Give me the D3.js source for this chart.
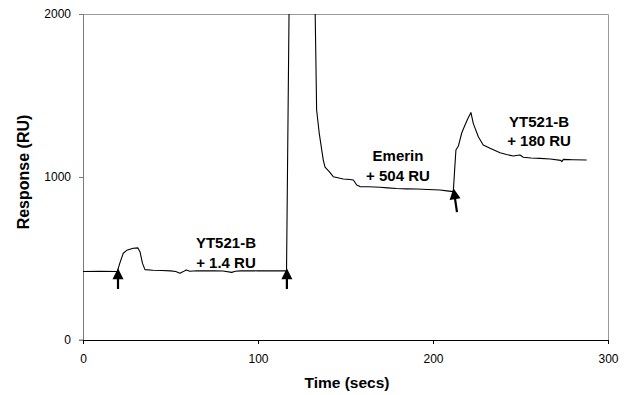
<!DOCTYPE html>
<html lang="en">
<head>
  <meta charset="utf-8" />
  <title>Sensorgram</title>
  <script src="https://d3js.org/d3.v7.min.js"></script>
  <style>
    body { margin: 0; background: #fff; }
    text { font-family: Arial, "Liberation Sans", sans-serif; }
  </style>
</head>
<body>
  <script>
    // sensorgram trace (time in secs, response in RU)
    var times = [0, 10, 19.6, 21, 23, 25, 28.7, 31.4, 32.6, 34, 35.4, 40, 45, 50, 53, 55.4, 57, 59, 61, 65,
      70, 75, 80, 85, 87, 90, 95, 100, 105, 110, 116.3, 118, 132.4, 133.5, 135, 137.3, 138.3, 140.7, 143, 146.9,
      148.7, 152.6, 154.5, 156.4, 158.3, 163, 169.7, 174, 179.2, 185, 190.7, 197, 204, 208, 211.6, 212.4, 213.1,
      214.5, 216.4, 218.3, 220, 221.7, 223, 225.9, 228.7, 232.6, 238.3, 242, 245.9, 247.5, 249.7, 251.6, 256,
      261.1, 267, 273, 273.6, 274.5, 280, 287.8];
    var response = [420, 421, 420, 470, 532, 550, 563, 565, 540, 470, 432, 428, 426, 424, 420, 410, 418, 430, 422, 425,
      424, 424, 423, 415, 422, 424, 425, 424, 424, 425, 424, 2300, 2200, 1411, 1268, 1104, 1060, 1033, 1002, 992,
      988, 985, 982, 951, 941, 940, 937, 933, 929, 927, 926, 923, 920, 915, 910, 1050, 1166,
      1190, 1270, 1319, 1360, 1395, 1329, 1247, 1196, 1176, 1149, 1138, 1129, 1132, 1135, 1121, 1117,
      1114, 1110, 1102, 1094, 1108, 1106, 1104];

    // injection arrows: tail -> tip
    var arrowTail = [[20, 313], [116.5, 313], [213.7, 785]];
    var arrowTip = [[20, 440], [116.5, 440], [211.7, 931]];

    // annotations (two lines each, anchored at first baseline)
    var labelLines = [["YT521-B", "+ 1.4 RU"], ["Emerin", "+ 504 RU"], ["YT521-B", "+ 180 RU"]];
    var labelPos = [[81.7, 564], [180, 1098], [260.6, 1307]];

    var xTicks = [0, 100, 200, 300];
    var yTicks = [0, 1000, 2000];

    var W = 628, H = 395;
    var margin = { top: 14, right: 20, bottom: 55, left: 83 };
    var width = W - margin.left - margin.right;
    var height = H - margin.top - margin.bottom;

    var svg = d3.select("body").append("svg")
      .attr("width", W)
      .attr("height", H);

    var x = d3.scaleLinear().domain([0, 300]).range([0, width]);
    var y = d3.scaleLinear().domain([0, 2000]).range([height, 0]);

    var g = svg.append("g")
      .attr("transform", "translate(" + margin.left + "," + margin.top + ")");

    svg.append("defs").append("clipPath")
      .attr("id", "clip")
      .append("rect")
      .attr("width", width)
      .attr("height", height);

    // frame (top, right)
    g.append("path")
      .attr("d", "M0,0.5H" + (width + 0.5) + "V" + height)
      .attr("fill", "none")
      .attr("stroke", "#9a9a9a")
      .attr("stroke-width", 1);

    var yAxis = g.append("g")
      .call(d3.axisLeft(y).tickValues(yTicks).tickSize(4).tickPadding(8).tickFormat(d3.format("d")));
    yAxis.select(".domain").attr("stroke", "#7a7a7a").attr("d", "M-4,0.5H0.5V" + height + "H-4");
    yAxis.selectAll(".tick line").attr("stroke", "#7a7a7a");
    yAxis.selectAll("text").attr("font-size", 12).attr("fill", "#000")
      .style("font-family", "Arial, 'Liberation Sans', sans-serif");

    var xAxis = g.append("g")
      .attr("transform", "translate(0," + height + ")")
      .call(d3.axisBottom(x).tickValues(xTicks).tickSize(4).tickPadding(10).tickFormat(d3.format("d")));
    xAxis.select(".domain").attr("stroke", "#000").attr("d", "M0,0.5H" + (width + 0.5) + "V4");
    xAxis.selectAll(".tick line").attr("stroke", "#000");
    xAxis.selectAll("text").attr("font-size", 12).attr("fill", "#000")
      .style("font-family", "Arial, 'Liberation Sans', sans-serif");

    var data = times.map(function (t, i) { return [t, response[i]]; });

    var line = d3.line()
      .x(function (d) { return x(d[0]); })
      .y(function (d) { return y(d[1]); });

    g.append("path")
      .datum(data)
      .attr("clip-path", "url(#clip)")
      .attr("fill", "none")
      .attr("stroke", "#000")
      .attr("stroke-width", 1.1)
      .attr("stroke-linejoin", "round")
      .attr("d", line);

    // arrows
    arrowTail.forEach(function (tail, i) {
      var x0 = x(tail[0]), y0 = y(tail[1]);
      var x1 = x(arrowTip[i][0]), y1 = y(arrowTip[i][1]);
      var dx = x1 - x0, dy = y1 - y0, len = Math.sqrt(dx * dx + dy * dy);
      var ux = dx / len, uy = dy / len;
      var hl = 11, hw = 5.5;
      var bx = x1 - ux * hl, by = y1 - uy * hl;
      g.append("line")
        .attr("x1", x0).attr("y1", y0)
        .attr("x2", bx + ux).attr("y2", by + uy)
        .attr("stroke", "#000")
        .attr("stroke-width", 2.2);
      g.append("path")
        .attr("d", "M" + x1 + "," + y1 +
          "L" + (bx - uy * hw) + "," + (by + ux * hw) +
          "L" + (bx + uy * hw) + "," + (by - ux * hw) + "Z")
        .attr("fill", "#000");
    });

    // annotations
    labelLines.forEach(function (lines, i) {
      var t = g.append("text")
        .attr("x", x(labelPos[i][0]))
        .attr("y", y(labelPos[i][1]))
        .attr("text-anchor", "middle")
        .attr("font-size", 15)
        .attr("font-weight", "bold");
      lines.forEach(function (s, j) {
        t.append("tspan")
          .attr("x", x(labelPos[i][0]))
          .attr("dy", j === 0 ? 0 : 19.5)
          .text(s);
      });
    });

    // axis titles
    svg.append("text")
      .attr("x", 347)
      .attr("y", 388)
      .attr("text-anchor", "middle")
      .attr("font-size", 15.5)
      .attr("font-weight", "bold")
      .text("Time (secs)");

    svg.append("text")
      .attr("transform", "translate(29,172) rotate(-90)")
      .attr("text-anchor", "middle")
      .attr("font-size", 16)
      .attr("font-weight", "bold")
      .text("Response (RU)");
  </script>
</body>
</html>
